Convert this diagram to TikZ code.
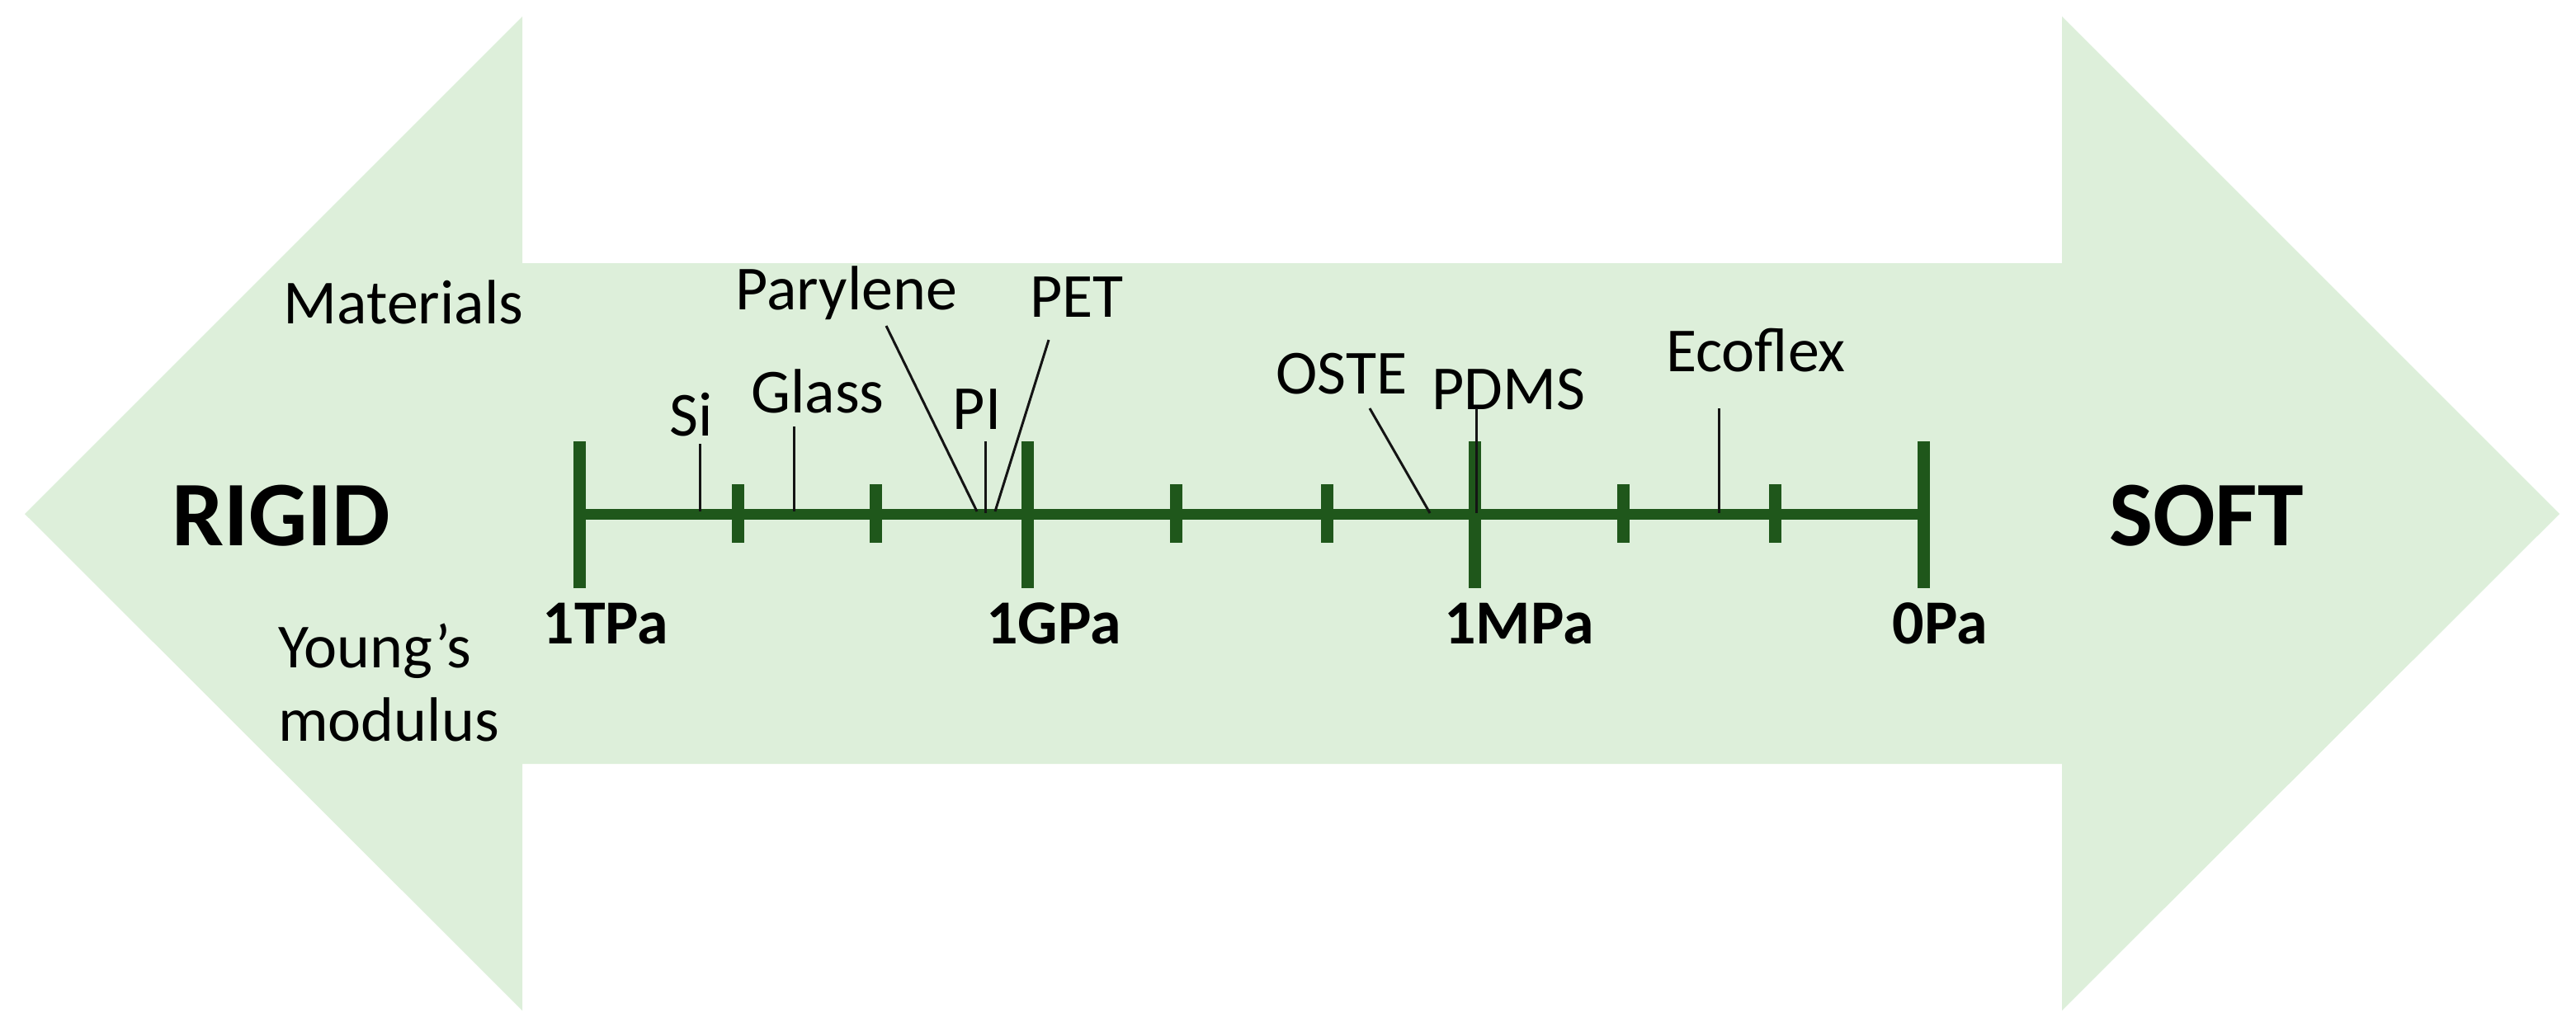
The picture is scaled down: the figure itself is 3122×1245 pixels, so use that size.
\documentclass[tikz,border=0pt]{standalone}
\usepackage{fontspec}
\setmainfont{Carlito}
\definecolor{arrowfill}{RGB}{221,239,218}
\definecolor{axisgreen}{RGB}{31,87,27}
\definecolor{leader}{RGB}{20,20,20}
\begin{document}
\begin{tikzpicture}[x=1pt,y=-1pt,
  lbl/.style={inner sep=0pt, font=\fontsize{76}{89}\selectfont, text=black},
  boldlbl/.style={inner sep=0pt, font=\fontsize{76}{89}\selectfont\bfseries, text=black},
  biglbl/.style={inner sep=0pt, font=\fontsize{112}{130}\selectfont\bfseries, text=black},
  axisline/.style={draw=axisgreen, line width=13pt},
  majortick/.style={draw=axisgreen, line width=15pt},
  minortick/.style={draw=axisgreen, line width=15pt},
  leaderline/.style={draw=leader, line width=3pt}]
\useasboundingbox (0,0) rectangle (3122,1245);
% double arrow
\fill[arrowfill] (30,623) -- (633,20) -- (633,319) -- (2499,319) -- (2499,20)
  -- (3102,623) -- (2499,1225) -- (2499,926) -- (633,926) -- (633,1225) -- cycle;
% axis
\coordinate (a0) at (702,623);
\coordinate (a1) at (2331,623);
\draw[axisline] (a0) -- (a1);
% major ticks
\foreach \x/\n in {702/t0,1245/t1,1787/t2,2331/t3}{
  \coordinate (\n top) at (\x,535);
  \coordinate (\n bot) at (\x,713);
  \draw[majortick] (\n top) -- (\n bot);
}
% minor ticks
\foreach \x/\n in {894/m1,1061/m2,1425/m3,1608/m4,1967/m5,2151/m6}{
  \coordinate (\n top) at (\x,587);
  \coordinate (\n bot) at (\x,658);
  \draw[minortick] (\n top) -- (\n bot);
}
% tick labels
\node[boldlbl, anchor=base] (l1T) at (734,780) {1TPa};
\node[boldlbl, anchor=base] (l1G) at (1277,780) {1GPa};
\node[boldlbl, anchor=base] (l1M) at (1841,780) {1MPa};
\node[boldlbl, anchor=base] (l0)  at (2351,780) {0Pa};
% side labels
\node[biglbl, anchor=base] (rigid) at (341,661) {RIGID};
\node[biglbl, anchor=base] (soft) at (2674,661) {SOFT};
\node[lbl, anchor=base] (materials) at (489,392) {Materials};
\node[lbl, anchor=north west, align=left] (young) at (337,756) {Young’s\\modulus};
% material labels
\node[lbl, anchor=base] (si) at (838,528) {Si};
\node[lbl, anchor=base] (glass) at (991,500) {Glass};
\node[lbl, anchor=base] (parylene) at (1026,375) {Parylene};
\node[lbl, anchor=base] (pet) at (1305,384) {PET};
\node[lbl, anchor=base] (pi) at (1184,520) {PI};
\node[lbl, anchor=base] (oste) at (1626,477) {OSTE};
\node[lbl, anchor=base] (pdms) at (1828,496) {PDMS};
\node[lbl, anchor=base] (ecoflex) at (2128,450) {Ecoflex};
% leader lines
\coordinate (si1) at (848,538);      \coordinate (si2) at (848,620);
\coordinate (gl1) at (962,517);      \coordinate (gl2) at (962,620);
\coordinate (pa1) at (1074,395);     \coordinate (pa2) at (1184,620);
\coordinate (pi1) at (1194,535);     \coordinate (pi2) at (1194,622);
\coordinate (pe1) at (1271,412);     \coordinate (pe2) at (1206,620);
\coordinate (os1) at (1660,495);     \coordinate (os2) at (1733,622);
\coordinate (pd1) at (1789,495);     \coordinate (pd2) at (1789,622);
\coordinate (ec1) at (2083,495);     \coordinate (ec2) at (2083,622);
\draw[leaderline] (si1) -- (si2);
\draw[leaderline] (gl1) -- (gl2);
\draw[leaderline] (pa1) -- (pa2);
\draw[leaderline] (pi1) -- (pi2);
\draw[leaderline] (pe1) -- (pe2);
\draw[leaderline] (os1) -- (os2);
\draw[leaderline] (pd1) -- (pd2);
\draw[leaderline] (ec1) -- (ec2);
\end{tikzpicture}
\end{document}
